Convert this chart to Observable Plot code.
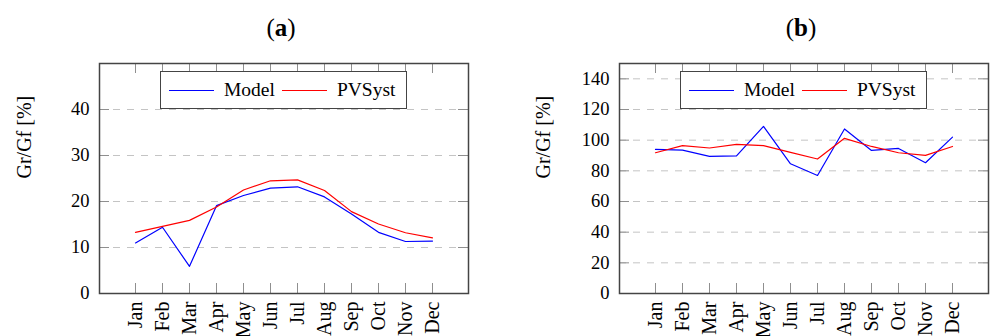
<!DOCTYPE html>
<html>
<head>
<meta charset="utf-8">
<script src="https://cdn.jsdelivr.net/npm/d3@7"></script>
<script src="https://cdn.jsdelivr.net/npm/@observablehq/plot@0.6"></script>
<style>
  body { margin: 0; background: #fff; }
  #root { position: relative; width: 990px; height: 336px; overflow: hidden; font-family: "Liberation Serif", serif; background: #fff; }
  .panel { position: absolute; top: 0; }
  .title { position: absolute; top: 15px; font-family: "Liberation Serif", serif; font-size: 25px; line-height: 25px; transform: translateX(-50%); color: #000; white-space: nowrap; }
  .legend { position: absolute; top: 71px; height: 38px; width: 247px; box-sizing: border-box; border: 1.5px solid #444; background: #fff; display: flex; align-items: center; font-family: "Liberation Serif", serif; font-size: 19.5px; color: #000; padding-left: 8px; }
  .sw { display: inline-block; width: 45px; height: 0; border-top: 1.2px solid; margin-right: 10px; }
  .lab { margin-right: 7px; font-family: "Liberation Serif", serif; }
</style>
</head>
<body>
<div id="root"></div>
<script>
// ---- data ----
const months = ["Jan","Feb","Mar","Apr","May","Jun","Jul","Aug","Sep","Oct","Nov","Dec"];
const seriesNames = ["Model", "PVSyst"];
const seriesColors = ["#0000ff", "#ff0000"];
const panelTitles = ["a", "b"];
const yLabel = "Gr/Gf [%]";

const modelA  = [11.0, 14.4, 5.9, 19.1, 21.3, 22.9, 23.2, 21.0, 17.3, 13.3, 11.3, 11.4];
const pvsystA = [13.3, 14.6, 15.9, 18.8, 22.5, 24.5, 24.7, 22.4, 17.8, 15.1, 13.2, 12.1];
const yTicksA = [0, 10, 20, 30, 40];
const yMaxA = 50;

const modelB  = [94.0, 93.5, 89.4, 89.8, 109.0, 84.6, 77.0, 107.3, 93.3, 94.6, 85.3, 102.0];
const pvsystB = [91.8, 96.4, 94.9, 97.3, 96.4, 92.0, 87.7, 101.2, 95.9, 91.8, 90.1, 95.9];
const yTicksB = [0, 20, 40, 60, 80, 100, 120, 140];
const yMaxB = 150;

// ---- layout ----
const H = 336, MT = 63, MB = 43, TICK = 10;
const FONT = "'Liberation Serif', serif";
const panels = [
  {left: 0,   width: 495, marginLeft: 99,  marginRight: 27, model: modelA, pvsyst: pvsystA, yTicks: yTicksA, yMax: yMaxA, labelDx: -75, titleX: 281, legendX: 160},
  {left: 495, width: 495, marginLeft: 124, marginRight: 2,  model: modelB, pvsyst: pvsystB, yTicks: yTicksB, yMax: yMaxB, labelDx: -76, titleX: 801, legendX: 680}
];

const root = document.getElementById("root");

panels.forEach((p, k) => {
  const data = months.flatMap((m, i) => [
    {month: m, value: p.model[i], series: seriesNames[0]},
    {month: m, value: p.pvsyst[i], series: seriesNames[1]}
  ]);
  const innerW = p.width - p.marginLeft - p.marginRight;
  const innerH = H - MT - MB;
  const chart = Plot.plot({
    width: p.width,
    height: H,
    marginLeft: p.marginLeft,
    marginRight: p.marginRight,
    marginTop: MT,
    marginBottom: MB,
    style: {fontFamily: FONT, fontSize: "18px", background: "transparent", color: "#000", overflow: "visible"},
    x: {type: "point", domain: months, padding: 1.1},
    y: {domain: [0, p.yMax]},
    color: {domain: seriesNames, range: seriesColors},
    marks: [
      Plot.ruleY(p.yTicks, {y: d => d, stroke: "#c4c4c4", strokeWidth: 1, strokeDasharray: "7,7"}),
      Plot.tickX(months, {x: d => d, insetTop: innerH - TICK, stroke: "#8f8f8f", strokeWidth: 1}),
      Plot.tickX(months, {x: d => d, insetBottom: innerH - TICK, stroke: "#8f8f8f", strokeWidth: 1}),
      Plot.tickY(p.yTicks, {y: d => d, insetRight: innerW - TICK, stroke: "#8f8f8f", strokeWidth: 1}),
      Plot.tickY(p.yTicks, {y: d => d, insetLeft: innerW - TICK, stroke: "#8f8f8f", strokeWidth: 1}),
      Plot.line(data, {x: "month", y: "value", stroke: "series", strokeWidth: 1.2}),
      Plot.axisX({tickSize: 0, tickPadding: 8, tickRotate: -90, label: null, fontSize: 20, fontFamily: FONT, textAnchor: "end"}),
      Plot.axisY({ticks: p.yTicks, tickSize: 0, tickPadding: 10, label: null, fontSize: 18.5, fontFamily: FONT}),
      Plot.frame({stroke: "#444", strokeWidth: 1.5}),
      Plot.text([yLabel], {frameAnchor: "left", text: d => d, rotate: -90, dx: p.labelDx, fontSize: 20, fontFamily: FONT, fill: "#000"})
    ]
  });
  chart.classList.add("panel");
  chart.style.left = p.left + "px";
  root.appendChild(chart);

  const t = document.createElement("div");
  t.className = "title";
  t.style.left = p.titleX + "px";
  t.innerHTML = "(<b>" + panelTitles[k] + "</b>)";
  root.appendChild(t);

  const lg = document.createElement("div");
  lg.className = "legend";
  lg.style.left = p.legendX + "px";
  seriesNames.forEach((name, j) => {
    const sw = document.createElement("span");
    sw.className = "sw";
    sw.style.borderTopColor = seriesColors[j];
    lg.appendChild(sw);
    const lb = document.createElement("span");
    lb.className = "lab";
    lb.textContent = name;
    lg.appendChild(lb);
  });
  root.appendChild(lg);
});
</script>
</body>
</html>
